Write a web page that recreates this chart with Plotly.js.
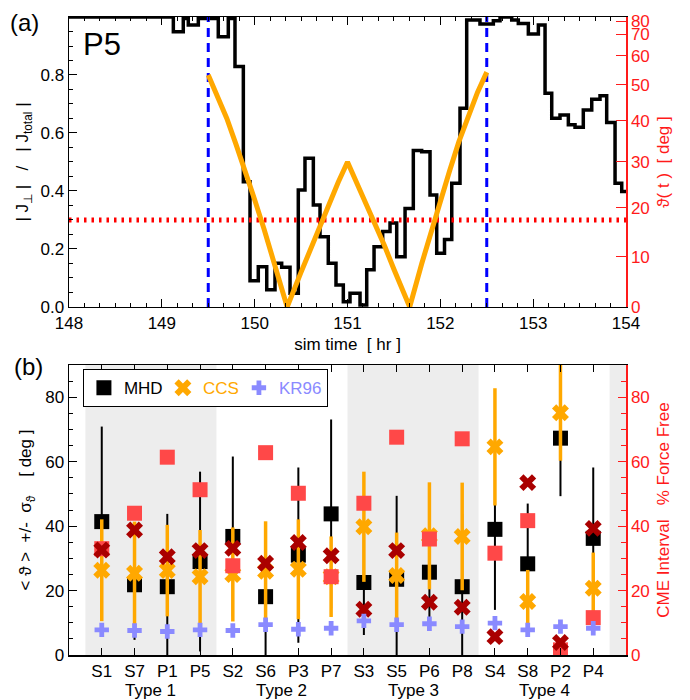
<!DOCTYPE html>
<html>
<head>
<meta charset="utf-8">
<script src="https://cdn.plot.ly/plotly-3.0.1.min.js"></script>
<style>
  html, body { margin: 0; padding: 0; background: #ffffff; }
  #chart { width: 690px; height: 700px; }
</style>
</head>
<body>
<div id="chart"></div>
<script>
// ---------------- Panel (a) data ----------------
const timeRange = [148, 154];
// step edges (sim time, hr) and |J_perp|/|J_total| values (histogram style)
const stepTime = [148.000, 149.124, 149.231, 149.285, 149.393, 149.608, 149.716, 149.788, 149.878, 149.950,
  150.039, 150.130, 150.219, 150.291, 150.381, 150.470, 150.542, 150.632, 150.704, 150.793,
  150.876, 150.955, 151.027, 151.135, 151.207, 151.286, 151.379, 151.458, 151.530, 151.620,
  151.709, 151.799, 151.889, 151.961, 152.045, 152.123, 152.212, 152.284, 152.427, 152.571,
  152.643, 152.769, 152.840, 152.948, 153.056, 153.128, 153.200, 153.289, 153.379, 153.451,
  153.540, 153.631, 153.720, 153.792, 153.882, 153.954, 154.000];
const stepRatio = [1.000, 0.949, 0.995, 0.972, 0.995, 0.932, 0.995, 0.829, 0.432, 0.090,
  0.139, 0.059, 0.151, 0.137, 0.047, 0.403, 0.513, 0.352, 0.242, 0.151,
  0.076, 0.018, 0.047, 0.007, 0.128, 0.208, 0.260, 0.290, 0.173, 0.340,
  0.540, 0.535, 0.386, 0.185, 0.233, 0.427, 0.685, 0.990, 0.976, 0.987,
  1.000, 0.990, 0.978, 0.941, 0.972, 0.737, 0.651, 0.662, 0.628, 0.620,
  0.679, 0.716, 0.728, 0.636, 0.427, 0.398, 0.398];
// theta(t) curve, read in left-axis (ratio) units
const thetaTime = [149.5, 149.6, 149.7, 149.8, 149.9, 150.0, 150.1, 150.2, 150.3, 150.35,
  150.5, 150.6, 150.7, 150.8, 150.9, 151.0, 151.1, 151.2, 151.3, 151.4,
  151.5, 151.6, 151.67, 151.8, 151.9, 152.0, 152.1, 152.2, 152.3, 152.4, 152.5];
const thetaRatio = [0.80, 0.73, 0.65, 0.56, 0.47, 0.37, 0.27, 0.16, 0.05, 0.00,
  0.12, 0.20, 0.28, 0.355, 0.43, 0.50, 0.43, 0.36, 0.285, 0.21,
  0.13, 0.055, 0.00, 0.15, 0.26, 0.37, 0.47, 0.57, 0.66, 0.74, 0.81];
const ratioTicks = [0, 0.2, 0.4, 0.6, 0.8];
const thetaTickDeg = [0, 10, 20, 30, 40, 50, 60, 70, 80];
const ratioThreshold = 0.3;
const cmeInterval = [149.5, 152.5];
const eventName = 'P5';

// ---------------- Panel (b) data ----------------
const events = ['S1','S7','P1','P5','S2','S6','P3','P7','S3','S5','P6','P8','S4','S8','P2','P4'];
const typeNames = ['Type 1','Type 2','Type 3','Type 4'];
const mhdMean  = [41.4, 21.8, 21.2, 29.0, 36.8, 18.1, 31.0, 43.8, 22.5, 23.5, 25.7, 21.2, 39.0, 28.3, 67.3, 36.2];
const mhdSigma = [29.5, 17.1, 22.6, 27.9, 24.8, 19.7, 27.2, 29.3, 16.3, 25.9, 17.8, 22.6, 25.0, 18.7, 18.0, 22.0];
const ccsMean  = [26.3, 25.4, 26.2, 24.3, 25.0, 26.0, 26.6, 24.3, 39.8, 24.7, 37.0, 36.8, 64.6, 16.6, 75.2, 20.7];
const ccsSigma = [15.8, 16.0, 14.2, 14.5, 14.6, 15.5, 15.5, 12.5, 17.1, 13.3, 16.6, 16.7, 18.2, 9.8, 14.9, 11.1];
const kr96Mean = [7.8, 7.6, 7.3, 7.8, 7.6, 9.4, 8.0, 8.3, 10.6, 9.4, 9.7, 8.8, 9.9, 7.8, 8.8, 8.3];
const forceFreePct = [33.0, 44.0, 61.4, 51.3, 27.7, 62.8, 50.2, 24.3, 47.1, 67.6, 36.0, 67.1, 31.6, 41.7, 1.6, 11.6];
const forceFreeAlt = [32.6, 38.8, 30.5, 32.4, 33.1, 28.5, 34.9, 30.8, 14.2, 32.4, 16.4, 14.8, 5.7, 53.5, 3.9, 39.3];
const degTicks = [0, 20, 40, 60, 80];
const degRange = [0, 90];

// ---------------- styling ----------------
const RED = '#ff1a1a';
const ORANGE = '#ffa800';
const DARKRED = '#aa0000';
const LIGHTRED = '#ff4848';
const LAVENDER = '#8a8aff';
const FONT = 'Liberation Sans, Arial, Helvetica, sans-serif';

const traces = [
  // panel (a)
  { x: stepTime, y: stepRatio, xaxis: 'x', yaxis: 'y', mode: 'lines',
    line: { shape: 'hv', color: '#000000', width: 3.5 }, showlegend: false, hoverinfo: 'skip' },
  { x: timeRange, y: [ratioThreshold, ratioThreshold], xaxis: 'x', yaxis: 'y', mode: 'lines',
    line: { color: '#ff0000', width: 5, dash: '2.5px,5px' }, showlegend: false, hoverinfo: 'skip' },
  { x: [cmeInterval[0], cmeInterval[0], null, cmeInterval[1], cmeInterval[1]],
    y: [0, 1, null, 0, 1], xaxis: 'x', yaxis: 'y', mode: 'lines',
    line: { color: '#0000ff', width: 3, dash: '9px,6px' }, showlegend: false, hoverinfo: 'skip' },
  { x: thetaTime, y: thetaRatio, xaxis: 'x', yaxis: 'y3', mode: 'lines',
    line: { color: ORANGE, width: 5 }, showlegend: false, hoverinfo: 'skip' },
  // panel (b)
  { x: events, y: mhdMean, xaxis: 'x2', yaxis: 'y2', mode: 'markers', name: 'MHD', legendwidth: 34,
    marker: { symbol: 'square', size: 15, color: '#000000' },
    error_y: { type: 'data', array: mhdSigma, color: '#000000', thickness: 2, width: 0 } },
  { x: events, y: ccsMean, xaxis: 'x2', yaxis: 'y2', mode: 'markers', legendwidth: 31,
    name: '<span style="color:' + ORANGE + '">CCS</span>',
    marker: { symbol: 'x', size: 15, color: ORANGE },
    error_y: { type: 'data', array: ccsSigma, color: ORANGE, thickness: 3.5, width: 0 } },
  { x: events, y: forceFreePct, xaxis: 'x2', yaxis: 'y4', mode: 'markers', showlegend: false,
    marker: { symbol: 'square', size: 15, color: LIGHTRED } },
  { x: events, y: forceFreeAlt, xaxis: 'x2', yaxis: 'y4', mode: 'markers', showlegend: false,
    marker: { symbol: 'x', size: 15, color: DARKRED } },
  { x: events, y: kr96Mean, xaxis: 'x2', yaxis: 'y4', mode: 'markers',
    name: '<span style="color:' + LAVENDER + '">KR96</span>',
    marker: { symbol: 'cross', size: 12, color: LAVENDER } }
];

// shaded bands for alternate type groups (Type 1, Type 3, ...)
const perType = events.length / typeNames.length;
const catMax = events.length;
const shapes = [];
for (let g = 0; g <= typeNames.length; g += 2) {
  const x0 = g * perType - 0.5;
  const x1 = Math.min(x0 + perType, catMax);
  if (x0 < catMax) {
    shapes.push({ type: 'rect', xref: 'x2', yref: 'y2 domain', x0: x0, x1: x1, y0: 0, y1: 1,
      fillcolor: '#ededed', line: { width: 0 }, layer: 'below' });
  }
}

const annotations = [
  { text: '(a)', xref: 'paper', yref: 'paper', x: -0.11, y: 0.992, xanchor: 'left', yanchor: 'middle',
    showarrow: false, font: { size: 24, color: '#000' } },
  { text: eventName, xref: 'paper', yref: 'paper', x: 0.022, y: 0.957, xanchor: 'left', yanchor: 'middle',
    showarrow: false, font: { size: 31, color: '#000' } },
  { text: '(b)', xref: 'paper', yref: 'paper', x: -0.102, y: 0.452, xanchor: 'left', yanchor: 'middle',
    showarrow: false, font: { size: 24, color: '#000' } }
];
typeNames.forEach((t, i) => {
  annotations.push({ text: t, xref: 'x2', yref: 'paper', x: i * perType + (perType - 1) / 2,
    y: -0.055, xanchor: 'center', yanchor: 'middle', showarrow: false, font: { size: 17, color: '#000' } });
});

const baseAxis = { showgrid: false, zeroline: false, showline: true, linewidth: 1.5, linecolor: '#000',
  ticks: 'inside', tickcolor: '#000', tickwidth: 1, tickfont: { size: 17, color: '#000' } };

const layout = {
  width: 690, height: 700,
  margin: { l: 69, r: 64, t: 17, b: 45 },
  paper_bgcolor: '#ffffff', plot_bgcolor: 'rgba(0,0,0,0)',
  font: { family: FONT, size: 17, color: '#000' },
  showlegend: true,
  legend: { orientation: 'h', x: 0.025, y: 0.448, xanchor: 'left', yanchor: 'top',
    bgcolor: '#ffffff', bordercolor: '#000', borderwidth: 1, font: { size: 17 },
    itemclick: false, tracegroupgap: 0 },
  xaxis: Object.assign({}, baseAxis, {
    domain: [0, 1], anchor: 'y', range: timeRange, tick0: 148, dtick: 1, ticklen: 8, mirror: 'ticks',
    minor: { dtick: 1 / 6, tick0: 148, ticks: 'inside', ticklen: 4, tickcolor: '#000' },
    title: { text: 'sim time  [ hr ]', font: { size: 17 }, standoff: 6 } }),
  yaxis: Object.assign({}, baseAxis, {
    domain: [0.5455, 1], anchor: 'x', range: [0, 1], tickvals: ratioTicks, tickformat: '.1f', ticklen: 8,
    minor: { dtick: 0.05, ticks: 'inside', ticklen: 4, tickcolor: '#000' },
    title: { text: '| J<sub>\u22A5</sub> |   /   | J<sub>total</sub> |', font: { size: 17 }, standoff: 7 } }),
  yaxis3: Object.assign({}, baseAxis, {
    overlaying: 'y', side: 'right', anchor: 'x', range: [0, 1],
    tickvals: thetaTickDeg.map(d => Math.sin(d * Math.PI / 180)), ticktext: thetaTickDeg.map(String),
    ticklen: 10, tickcolor: RED, linecolor: RED, tickfont: { size: 17, color: RED },
    title: { text: '\u03D1( t )  [ deg ]', font: { size: 17, color: RED }, standoff: 8 } }),
  xaxis2: Object.assign({}, baseAxis, {
    domain: [0, 1], anchor: 'y2', type: 'category', range: [-1, catMax], ticklen: 7, mirror: 'ticks' }),
  yaxis2: Object.assign({}, baseAxis, {
    domain: [0, 0.4545], anchor: 'x2', range: degRange, tickvals: degTicks, ticklen: 8,
    minor: { dtick: 5, ticks: 'inside', ticklen: 4, tickcolor: '#000' },
    title: { text: '< \u03D1 >  +/-  \u03C3<sub>\u03D1</sub>    [ deg ]', font: { size: 17 }, standoff: 9 } }),
  yaxis4: Object.assign({}, baseAxis, {
    overlaying: 'y2', side: 'right', anchor: 'x2', range: degRange, tickvals: degTicks, ticklen: 8,
    tickcolor: RED, linecolor: RED, tickfont: { size: 17, color: RED },
    minor: { dtick: 5, ticks: 'inside', ticklen: 5, tickcolor: RED },
    title: { text: 'CME Interval   % Force Free', font: { size: 17, color: RED }, standoff: 8 } }),
  shapes: shapes,
  annotations: annotations
};

Plotly.newPlot('chart', traces, layout, { staticPlot: true, displayModeBar: false });
</script>
</body>
</html>
